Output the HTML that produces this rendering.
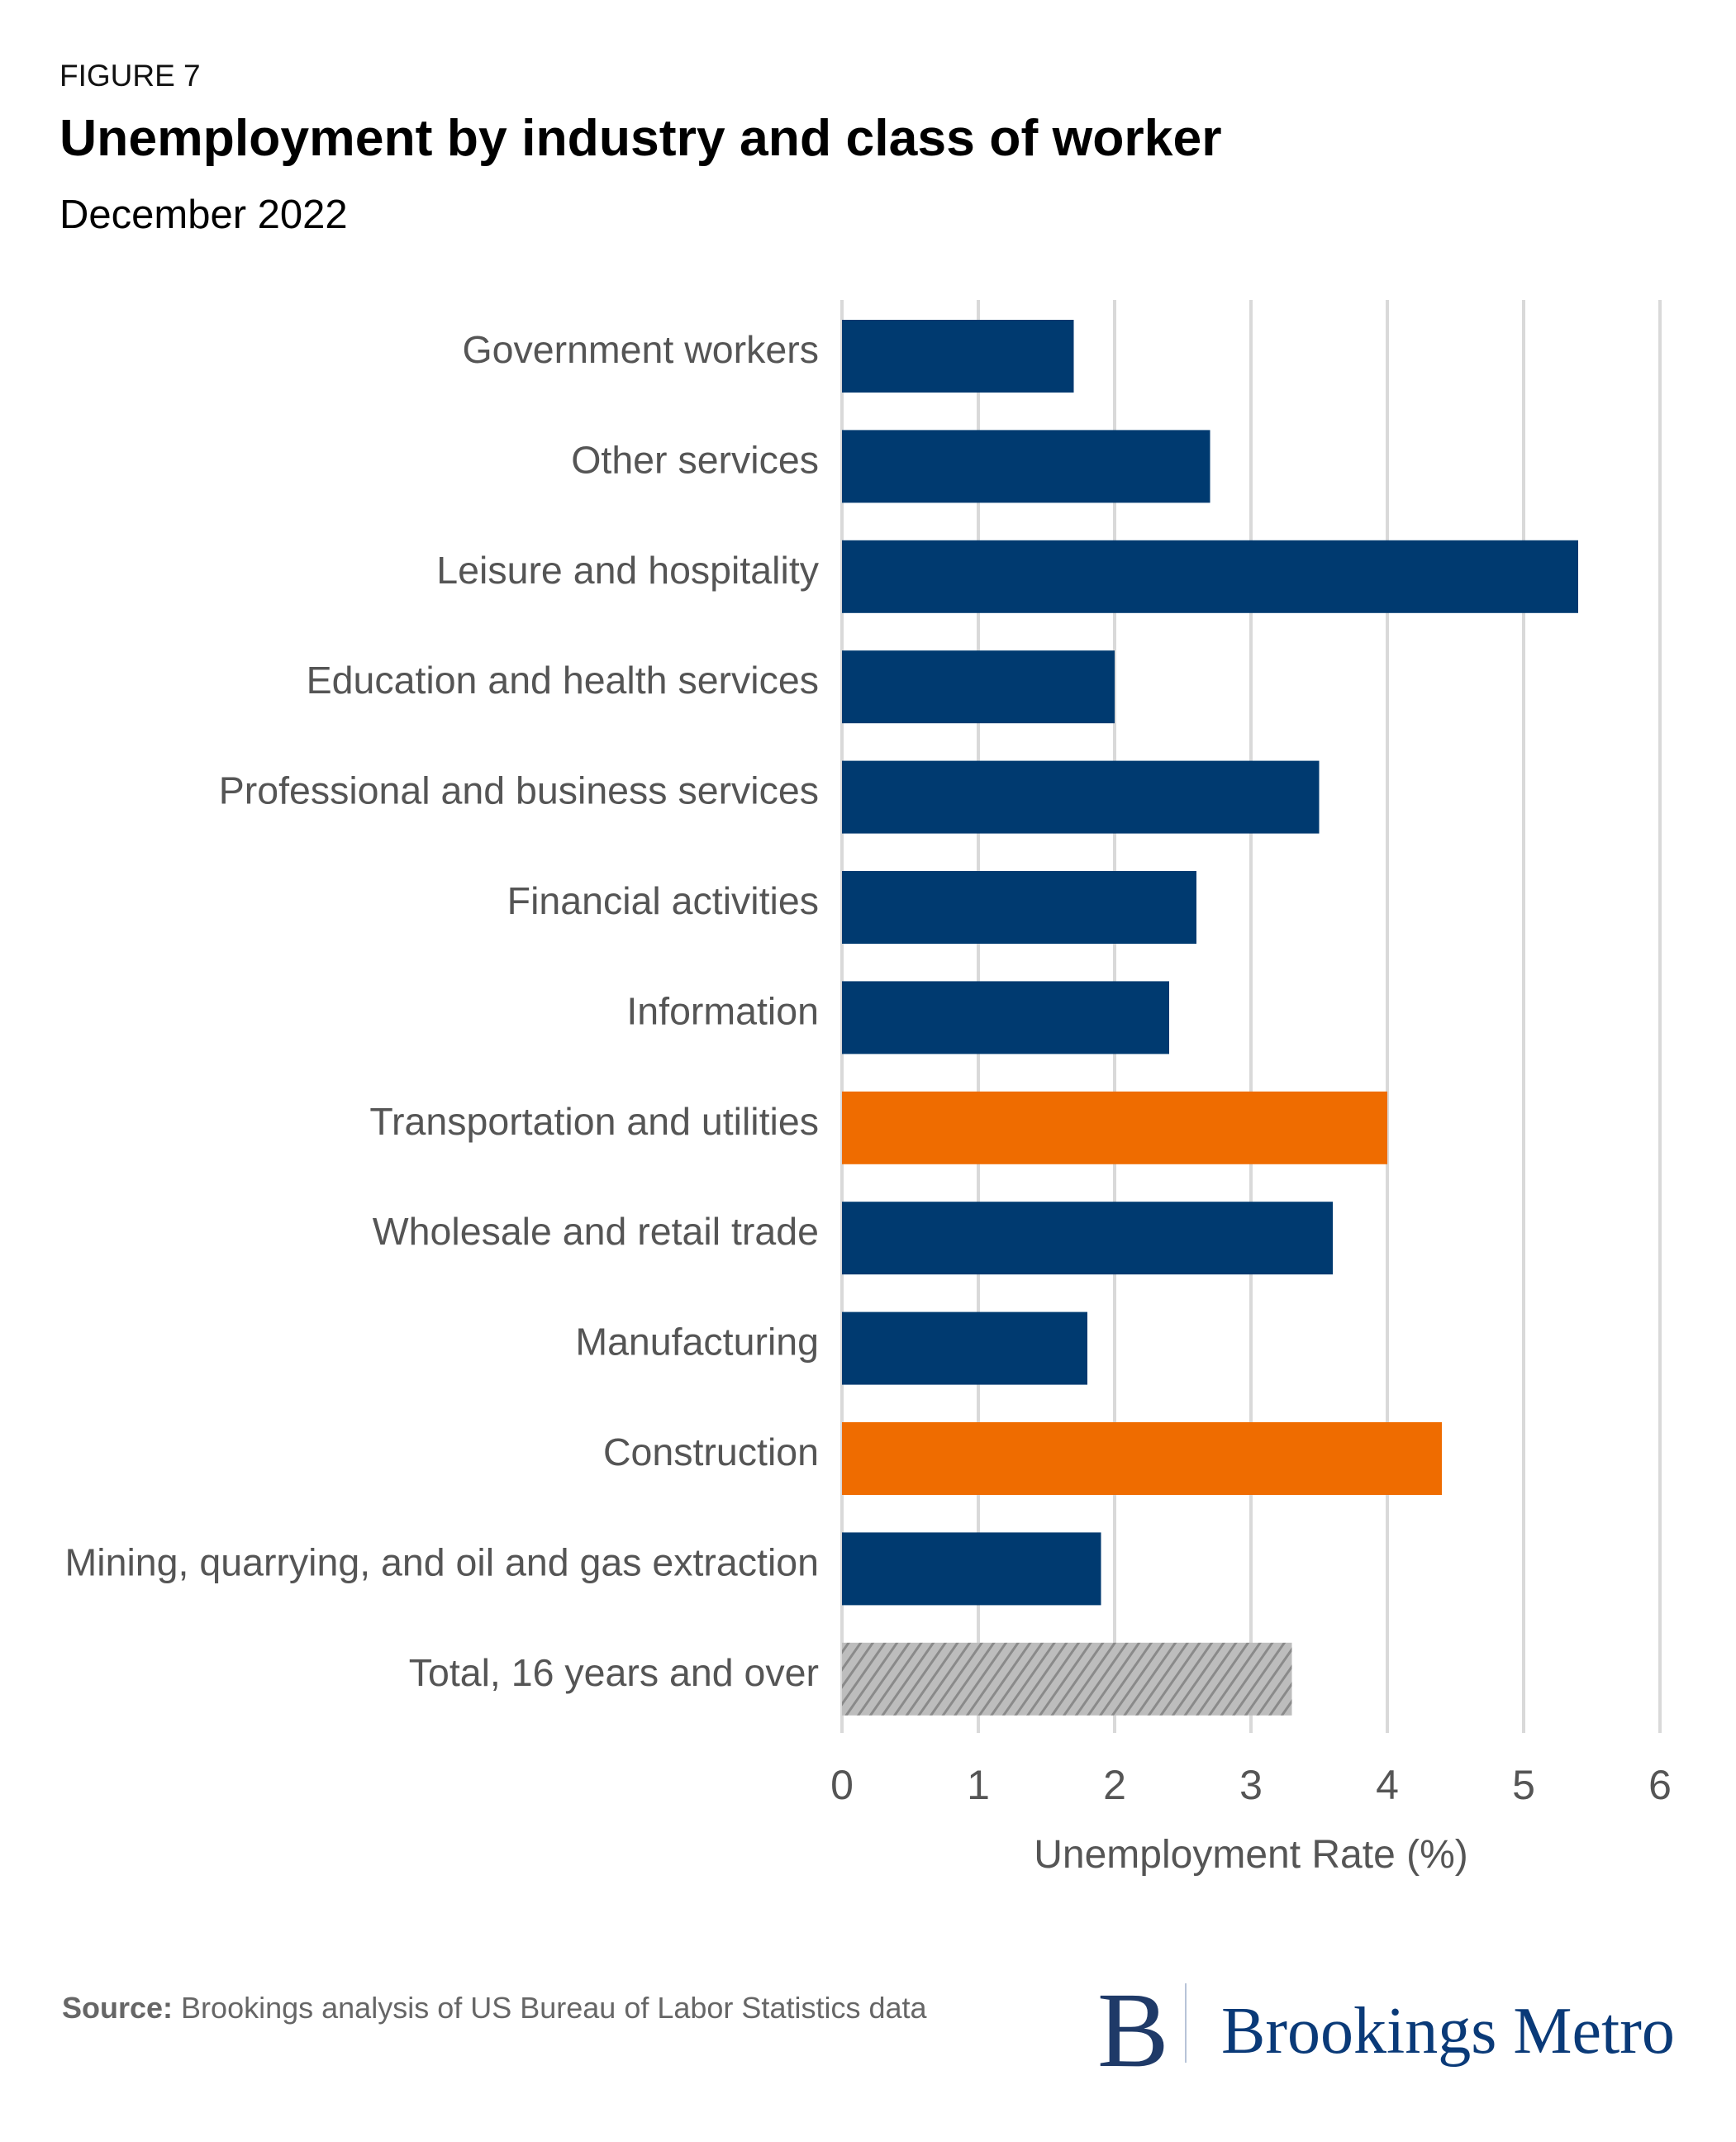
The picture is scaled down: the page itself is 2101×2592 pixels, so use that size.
<!DOCTYPE html>
<html><head><meta charset="utf-8">
<style>
html,body{margin:0;padding:0;background:#fff;}
svg{display:block;font-family:"Liberation Sans",Arial,sans-serif;}
</style></head>
<body>
<svg id="chart" width="2101" height="2592" viewBox="0 0 2101 2592" xmlns="http://www.w3.org/2000/svg">
<defs>
<pattern id="hatch" patternUnits="userSpaceOnUse" width="12" height="12" patternTransform="rotate(35)">
<rect width="12" height="12" fill="#bdbdbd"/>
<rect x="0" y="0" width="3" height="12" fill="#8a8a8a"/>
</pattern>
</defs>
<text x="72" y="104" font-size="37" fill="#111">FIGURE 7</text>
<text x="72" y="188" font-size="62.5" font-weight="bold" fill="#000">Unemployment by industry and class of worker</text>
<text x="72" y="276" font-size="49" fill="#000">December 2022</text>
<g id="grid"></g>
<g id="bars"></g>
<g id="labels"></g>
<g id="ticks"></g>
<text x="1514" y="2260" font-size="48" fill="#555" text-anchor="middle">Unemployment Rate (%)</text>
<text x="75" y="2442" font-size="36" fill="#666"><tspan font-weight="bold">Source:</tspan> Brookings analysis of US Bureau of Labor Statistics data</text>
<g>
<text x="1328" y="2500" font-family="'Liberation Serif',serif" font-size="130" fill="#1f3a68">B</text>
<rect x="1434" y="2400" width="2" height="96" fill="#b8c4d8"/>
<text x="1478" y="2484" font-family="'Liberation Serif',serif" font-size="80" fill="#0a3a78">Brookings Metro</text>
</g>
</svg>
<script>
const categories = ["Government workers","Other services","Leisure and hospitality","Education and health services","Professional and business services","Financial activities","Information","Transportation and utilities","Wholesale and retail trade","Manufacturing","Construction","Mining, quarrying, and oil and gas extraction","Total, 16 years and over"];
const values = [1.7,2.7,5.4,2.0,3.5,2.6,2.4,4.0,3.6,1.8,4.4,1.9,3.3];
const highlight = [0,0,0,0,0,0,0,1,0,0,1,0,2];
const tickValues = [0,1,2,3,4,5,6];
const tickLabels = ["0","1","2","3","4","5","6"];

const NS="http://www.w3.org/2000/svg";
const x0=1019, x1=2009, xmax=6;
const xs=v=>x0+(x1-x0)*v/xmax;
const yTop=387, pitch=133.4, barH=88;
const ys=i=>yTop+i*pitch;
const mk=(t,a)=>{const e=document.createElementNS(NS,t);for(const k in a)e.setAttribute(k,a[k]);return e;};
const grid=document.getElementById('grid'),bars=document.getElementById('bars'),labels=document.getElementById('labels'),ticks=document.getElementById('ticks');
tickValues.forEach((v,i)=>{
  const l=mk('line',{x1:xs(v),x2:xs(v),y1:363,y2:2097,stroke:'#d9d9d9','stroke-width':4});
  
  
  grid.appendChild(l);
  const t=mk('text',{x:xs(v),y:2177,'font-size':50,fill:'#555','text-anchor':'middle'});
  t.textContent=tickLabels[i];
  
  
  ticks.appendChild(t);
});
const colors=['#003a70','#ef6c00','url(#hatch)'];
categories.forEach((c,i)=>{
  const r=mk('rect',{x:x0,y:ys(i),width:xs(values[i])-x0,height:barH,fill:colors[highlight[i]]});
  
  
  bars.appendChild(r);
  const t=mk('text',{x:991,y:ys(i)+barH/2+8,'font-size':46.5,fill:'#555','text-anchor':'end'});
  t.textContent=c;
  
  
  labels.appendChild(t);
});
</script>
</body></html>
